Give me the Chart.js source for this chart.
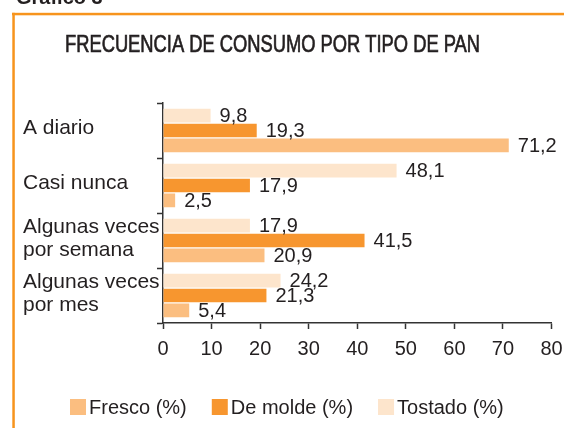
<!DOCTYPE html>
<html><head><meta charset="utf-8">
<script src="https://cdn.jsdelivr.net/npm/chart.js@4"></script>
<style>html,body{margin:0;padding:0;background:#fff;overflow:hidden}#wrap{position:relative;width:564px;height:428px}</style>
</head><body><div id="wrap"><canvas id="c" width="564" height="428"></canvas></div>
<script>
const categories = ["A diario", "Casi nunca", ["Algunas veces", "por semana"], ["Algunas veces", "por mes"]];
const fresco = [71.2, 2.5, 20.9, 5.4];
const deMolde = [19.3, 17.9, 41.5, 21.3];
const tostado = [9.8, 48.1, 17.9, 24.2];
const xTicks = [0, 10, 20, 30, 40, 50, 60, 70, 80];
const seriesNames = ["Fresco (%)", "De molde (%)", "Tostado (%)"];
const chartTitle = "FRECUENCIA DE CONSUMO POR TIPO DE PAN";
const figureLabel = "Gráfico 3";

const COL_FRESCO = '#FBBE80';
const COL_MOLDE = '#F7962F';
const COL_TOSTADO = '#FDE5CC';
const TEXT = '#231F20';
const FONT = "'Liberation Sans', Arial, sans-serif";

// drawn top to bottom inside each category: Tostado, De molde, Fresco
const datasets = [
  {label: seriesNames[2], data: tostado, backgroundColor: COL_TOSTADO},
  {label: seriesNames[1], data: deMolde, backgroundColor: COL_MOLDE},
  {label: seriesNames[0], data: fresco, backgroundColor: COL_FRESCO}
].map(d => Object.assign(d, {categoryPercentage: 0.81, barPercentage: 0.92, borderWidth: 0}));

const decor = {
  id: 'decor',
  beforeDraw(chart) {
    const ctx = chart.ctx;
    ctx.save();
    ctx.fillStyle = '#fff';
    ctx.fillRect(0, 0, chart.width, chart.height);
    // frame
    ctx.fillStyle = '#F7941D';
    ctx.fillRect(12, 12.8, chart.width, 2.5);
    ctx.fillRect(12.3, 12.8, 2.5, chart.height);
    // figure label (cut at top)
    ctx.fillStyle = TEXT;
    ctx.font = "bold 20px " + FONT;
    ctx.textBaseline = 'alphabetic';
    ctx.textAlign = 'left';
    ctx.fillText(figureLabel, 16, 4);
    // title
    ctx.font = "24px 'Liberation Sans Narrow', " + FONT;
    const w = ctx.measureText(chartTitle).width;
    const sx = 415 / w;
    ctx.translate(272.5, 52);
    ctx.scale(sx, 1);
    ctx.textAlign = 'center';
    ctx.strokeStyle = TEXT;
    ctx.lineWidth = 0.7;
    ctx.fillText(chartTitle, 0, 0);
    ctx.strokeText(chartTitle, 0, 0);
    ctx.restore();
  },
  afterDraw(chart) {
    const ctx = chart.ctx;
    ctx.save();
    ctx.fillStyle = TEXT;
    ctx.font = "20px " + FONT;
    ctx.textBaseline = 'middle';
    ctx.textAlign = 'left';
    chart.data.datasets.forEach((ds, i) => {
      const meta = chart.getDatasetMeta(i);
      meta.data.forEach((el, j) => {
        const txt = ds.data[j].toFixed(1).replace('.', ',');
        ctx.fillText(txt, el.x + 9, el.y + 1);
      });
    });
    // legend: Fresco, De molde, Tostado
    let x = 70;
    const items = chart.data.datasets.slice().reverse();
    items.forEach(ds => {
      ctx.fillStyle = ds.backgroundColor;
      ctx.fillRect(x, 399, 16, 16);
      ctx.fillStyle = TEXT;
      ctx.fillText(ds.label, x + 19, 408);
      x += 19 + ctx.measureText(ds.label).width + 25;
    });
    ctx.restore();
  }
};

new Chart(document.getElementById('c'), {
  type: 'bar',
  data: {labels: categories, datasets},
  options: {
    indexAxis: 'y',
    responsive: false,
    animation: false,
    devicePixelRatio: 1,
    layout: {padding: {left: 23, right: 12.5, top: 103, bottom: 65}},
    plugins: {legend: {display: false}, title: {display: false}, tooltip: {enabled: false}},
    scales: {
      x: {
        min: 0, max: 80,
        afterBuildTicks(s) { s.ticks = xTicks.map(v => ({value: v})); },
        grid: {drawOnChartArea: false, tickLength: 6, tickColor: '#333', tickWidth: 1.5},
        border: {color: '#333', width: 1.5},
        ticks: {color: TEXT, font: {family: FONT, size: 20}, padding: 8, maxRotation: 0, autoSkip: false},
        afterFit(s) { s.height = 40; s.paddingLeft = 0; s.paddingRight = 0; }
      },
      y: {
        grid: {drawOnChartArea: false, tickLength: 6, tickColor: '#333', tickWidth: 1.5, offset: true},
        border: {color: '#333', width: 1.5},
        ticks: {crossAlign: 'far', color: TEXT, font: {family: FONT, size: 21, lineHeight: 1.08}, padding: 0, labelOffset: -2, autoSkip: false},
        afterFit(s) { s.width = 140; s.paddingTop = 0; s.paddingBottom = 0; }
      }
    }
  },
  plugins: [decor]
});
</script></body></html>
